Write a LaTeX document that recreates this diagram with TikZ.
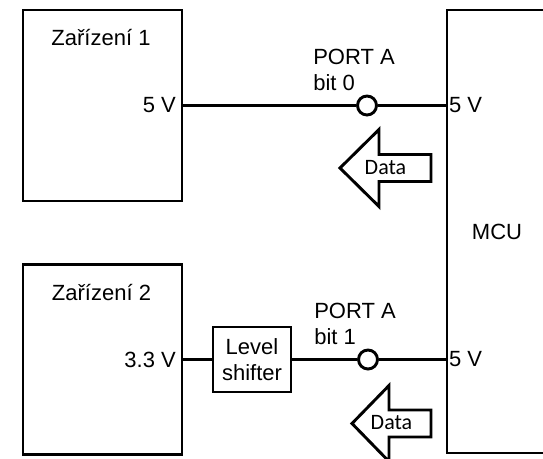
\documentclass[tikz,border=0pt]{standalone}
\usepackage{fontspec}
\setmainfont{Liberation Sans}
\newfontfamily\datafont{Carlito}
\usetikzlibrary{positioning}
\tikzset{
  txt/.style     = {font=\fontsize{16.5}{19.5}\selectfont},
  devblk/.style  = {draw, line width=2.2pt, txt, inner sep=0pt, minimum width=119.25pt},
  lvlblk/.style  = {draw, line width=2.2pt, txt, align=center, inner sep=0pt,
                    minimum width=58.5pt, minimum height=48.75pt},
  pin/.style     = {circle, draw, line width=2.2pt, fill=white, inner sep=0pt, minimum size=14.25pt},
  wire/.style    = {line width=2.2pt},
  vlbl/.style    = {txt, inner sep=0pt},
  portlbl/.style = {txt, align=left, inner sep=0pt},
  datarr/.style  = {line width=2.2pt, line join=miter, fill=white},
  datalbl/.style = {font=\datafont\fontsize{16.5}{19.5}\selectfont, inner sep=0pt}
}

\begin{document}
\begin{tikzpicture}[x=0.75pt, y=-0.75pt]
\useasboundingbox (0,0) rectangle (543,458);
\clip (0,0) rectangle (543,458);
% ---- blocks ----
\node (dev1) [devblk, minimum height=143.25pt] at (102.5,105.5) {};
\node (dev2) [devblk, minimum height=142.5pt] at (102.5,359.5) {};
\node (mcu) [devblk, minimum width=75pt, minimum height=332.25pt] at (497,231.5) {MCU};
\node (shifter) [lvlblk] at (252,359.5) {Level\\shifter};
\node (t1) [txt, anchor=base] at (101,45) {Zařízení 1};
\node (t2) [txt, anchor=base] at (101.5,300) {Zařízení 2};

% ---- port pins ----
\node (pinA0) [pin] at (367,105.5) {};
\node (pinA1) [pin] at (368,359.5) {};
\coordinate (mcu0) at (pinA0 -| mcu.west);
\coordinate (mcu1) at (pinA1 -| mcu.west);

% ---- wires ----
\draw[wire] (dev1.east) -- (pinA0);
\draw[wire] (pinA0) -- (mcu0);
\draw[wire] (dev2.east) -- (shifter);
\draw[wire] (shifter) -- (pinA1);
\draw[wire] (pinA1) -- (mcu1);

% ---- labels ----
\node (v1) [vlbl, left=5.5pt of dev1.east] {5 V};
\node (v2) [vlbl, left=5.5pt of dev2.east] {3.3 V};
\node (m0) [vlbl, right=2.5pt of mcu0] {5 V};
\node (m1) [vlbl, right=2.5pt of mcu1] {5 V};
\node (port0) [portlbl, anchor=north west] at (313,48.5) {PORT A\\bit 0};
\node (port1) [portlbl, anchor=north west] at (314,303) {PORT A\\bit 1};

% ---- data direction ----
\coordinate (tip0) at (340,168);
\draw[datarr] (tip0) -- ++(39,-38.5) -- ++(0,25) -- ++(52,0) -- ++(0,27)
  -- ++(-52,0) -- ++(0,25) -- cycle;
\node (d0) [datalbl] at (385.5,168) {Data};
\coordinate (tip1) at (352,423.5);
\draw[datarr] (tip1) -- ++(37,-38) -- ++(0,24.5) -- ++(42,0) -- ++(0,27)
  -- ++(-42,0) -- ++(0,24.5) -- cycle;
\node (d1) [datalbl] at (391.5,423) {Data};
\end{tikzpicture}
\end{document}
